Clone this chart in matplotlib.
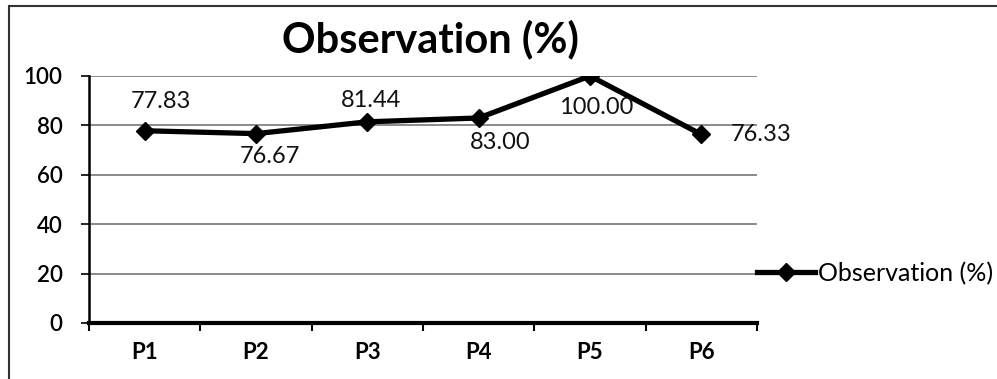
import matplotlib.pyplot as plt
from matplotlib.patches import Rectangle

# datos
categorias = ["P1", "P2", "P3", "P4", "P5", "P6"]
observacion = [77.83, 76.67, 81.44, 83.00, 100.00, 76.33]
serie_nombre = "Observation (%)"
y_ticks = [0, 20, 40, 60, 80, 100]

# donde va cada etiqueta (pixeles respecto al punto)
desplazamientos = [(16, 29), (14, -23), (4, 21), (21, -25), (6, -32), (29, 0)]
alineacion = ["center", "center", "center", "center", "center", "left"]

plt.rcParams['font.family'] = ['Lato', 'DejaVu Sans']

fig = plt.figure(figsize=(9.97, 3.79), dpi=100)
ax = fig.add_axes([0.0893, 0.1478, 0.670, 0.6517])

x = list(range(len(categorias)))
linea, = ax.plot(x, observacion, color='black', linewidth=3.8, marker='D',
                 markersize=9, label=serie_nombre, zorder=3)

for i, v in enumerate(observacion):
    dx, dy = desplazamientos[i]
    ax.annotate(f"{v:.2f}", (x[i], v), xytext=(dx, dy), textcoords='offset pixels',
                ha=alineacion[i], va='center', fontsize=17, color='#111111')

ax.set_xlim(-0.5, len(categorias) - 0.5)
ax.set_ylim(0, 100)
ax.set_yticks(y_ticks)
ax.set_yticklabels([str(t) for t in y_ticks], fontsize=16, fontweight='semibold')
ax.set_xticks(x)
ax.set_xticklabels(categorias, fontsize=16, fontweight='bold')
ax.tick_params(axis='x', length=0, pad=14)
ax.set_xticks([i - 0.5 for i in range(len(categorias) + 1)], minor=True)
ax.tick_params(axis='x', which='minor', length=6, width=1.5, direction='out')
ax.tick_params(axis='y', length=6, width=1.2, direction='out', pad=13)

ax.grid(axis='y', color='#8a8a8a', linewidth=1.4)
ax.set_axisbelow(True)
for lado in ['top', 'right']:
    ax.spines[lado].set_visible(False)
ax.spines['left'].set_linewidth(1.8)
ax.spines['bottom'].set_linewidth(3)

fig.text(0.432, 0.895, serie_nombre, ha='center', va='center',
         fontsize=30, fontweight='bold')

ax.legend(handles=[linea], loc='center left', bbox_to_anchor=(0.985, 0.2),
          frameon=False, fontsize=18, handlelength=2.3, handletextpad=0.15,
          borderaxespad=0)

# borde del grafico
fig.patches.append(Rectangle((9 / 997, -0.1), 1.2, 1.1 - 6 / 379,
                             transform=fig.transFigure, fill=False,
                             edgecolor='#333333', linewidth=1.5))

fig.savefig("out.png", dpi=100)
